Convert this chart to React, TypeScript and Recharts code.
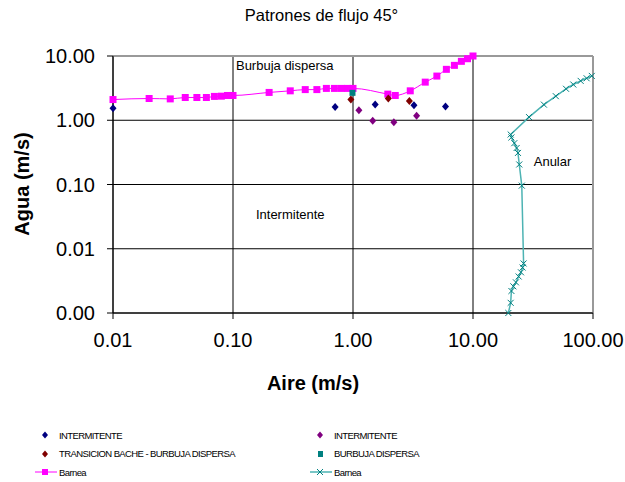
import React from "react";
import {
  ScatterChart,
  Scatter,
  XAxis,
  YAxis,
  CartesianGrid,
  ReferenceLine,
  ReferenceDot,
} from "recharts";

const xTicks = [0.01, 0.1, 1, 10, 100];
const yTicks = [0.001, 0.01, 0.1, 1, 10];

const intermitenteA = [
  { x: 0.01, y: 1.54 },
  { x: 0.71, y: 1.61 },
  { x: 1.53, y: 1.76 },
  { x: 3.22, y: 1.71 },
  { x: 5.9, y: 1.64 },
];

const intermitenteB = [
  { x: 1.12, y: 1.43 },
  { x: 1.46, y: 0.98 },
  { x: 2.19, y: 0.93 },
  { x: 3.39, y: 1.18 },
];

const transicion = [
  { x: 0.96, y: 2.1 },
  { x: 1.97, y: 2.18 },
  { x: 2.95, y: 2.0 },
];

const burbuja = [{ x: 0.99, y: 2.67 }];

const barneaBurbuja = [
  { x: 0.01, y: 2.1 },
  { x: 0.02, y: 2.18 },
  { x: 0.03, y: 2.15 },
  { x: 0.04, y: 2.26 },
  { x: 0.05, y: 2.26 },
  { x: 0.06, y: 2.26 },
  { x: 0.07, y: 2.35 },
  { x: 0.08, y: 2.37 },
  { x: 0.09, y: 2.43 },
  { x: 0.1, y: 2.43 },
  { x: 0.2, y: 2.71 },
  { x: 0.3, y: 2.87 },
  { x: 0.4, y: 3.0 },
  { x: 0.5, y: 3.0 },
  { x: 0.6, y: 3.13 },
  { x: 0.7, y: 3.13 },
  { x: 0.8, y: 3.13 },
  { x: 0.9, y: 3.13 },
  { x: 1.0, y: 3.13 },
  { x: 1.95, y: 2.55 },
  { x: 2.25, y: 2.43 },
  { x: 3, y: 2.87 },
  { x: 4, y: 3.92 },
  { x: 5, y: 4.87 },
  { x: 6, y: 6.2 },
  { x: 7, y: 7.15 },
  { x: 8, y: 8.26 },
  { x: 9, y: 9.07 },
  { x: 10, y: 10 },
];

const barneaAnular = [
  { x: 19.7, y: 0.001 },
  { x: 20.6, y: 0.00144 },
  { x: 20.9, y: 0.0022 },
  { x: 21.7, y: 0.0026 },
  { x: 22.8, y: 0.003 },
  { x: 24.0, y: 0.0037 },
  { x: 25.1, y: 0.0043 },
  { x: 25.9, y: 0.0051 },
  { x: 26.4, y: 0.0059 },
  { x: 25.5, y: 0.096 },
  { x: 24.3, y: 0.205 },
  { x: 23.7, y: 0.31 },
  { x: 23.1, y: 0.37 },
  { x: 22.1, y: 0.44 },
  { x: 20.9, y: 0.54 },
  { x: 20.6, y: 0.6 },
  { x: 29.3, y: 1.12 },
  { x: 39, y: 1.75 },
  { x: 49, y: 2.37 },
  { x: 59.6, y: 3.09 },
  { x: 68.5, y: 3.6 },
  { x: 78.9, y: 4.1 },
  { x: 88.5, y: 4.5 },
  { x: 97.7, y: 4.9 },
];

const font = "'Liberation Sans', Arial, sans-serif";

const diamond = (color: string) => (p: any) => (
  <path
    d={`M${p.cx},${p.cy - 4}L${p.cx + 3.5},${p.cy}L${p.cx},${p.cy + 4}L${p.cx - 3.5},${p.cy}Z`}
    fill={color}
  />
);

const square = (color: string, s: number) => (p: any) => (
  <rect x={p.cx - s / 2} y={p.cy - s / 2} width={s} height={s} fill={color} />
);

const cross = (color: string) => (p: any) => (
  <path
    d={`M${p.cx - 3},${p.cy - 3}L${p.cx + 3},${p.cy + 3}M${p.cx - 3},${p.cy + 3}L${p.cx + 3},${p.cy - 3}`}
    stroke={color}
    strokeWidth={1}
  />
);

const XTitle = () => (
  <text x={313} y={390} textAnchor="middle" fontFamily={font} fontSize={20} fontWeight="bold" fill="#000">
    Aire (m/s)
  </text>
);

const YTitle = () => (
  <text
    x={22}
    y={184}
    transform="rotate(-90, 22, 184)"
    textAnchor="middle"
    dominantBaseline="central"
    fontFamily={font}
    fontSize={20}
    fontWeight="bold"
    fill="#000"
  >
    Agua (m/s)
  </text>
);

function LegendItem({ icon, label }: { icon: React.ReactNode; label: string }) {
  return (
    <div style={{ display: "flex", alignItems: "center", height: 18.5 }}>
      <svg width={23} height={12} style={{ marginRight: 1 }}>
        {icon}
      </svg>
      <span style={{ fontSize: 9.5, letterSpacing: -0.6 }}>{label}</span>
    </div>
  );
}

const diamondIcon = (color: string) => (
  <path d="M10,2.5L13,6L10,9.5L7,6Z" fill={color} />
);

export default function App() {
  return (
    <div
      style={{
        position: "absolute",
        left: 0,
        top: 0,
        width: 625,
        height: 482,
        background: "#fff",
        fontFamily: font,
      }}
    >
      <div
        style={{
          position: "absolute",
          left: 0,
          width: 643,
          top: 6,
          textAlign: "center",
          fontSize: 16.5,
        }}
      >
        Patrones de flujo 45°
      </div>
      <ScatterChart width={625} height={482} margin={{ top: 56, right: 32, bottom: 0, left: 0 }}>
        <CartesianGrid stroke="#000" strokeWidth={1} />
        <XAxis
          type="number"
          dataKey="x"
          scale="log"
          domain={[0.01, 100]}
          ticks={xTicks}
          tickFormatter={(v: number) => v.toFixed(2)}
          height={169}
          tickSize={6}
          tickMargin={14}
          stroke="#000"
          tick={{ fill: "#000", fontSize: 20, fontFamily: font }}
          label={<XTitle />}
        />
        <YAxis
          type="number"
          dataKey="y"
          scale="log"
          domain={[0.001, 10]}
          ticks={yTicks}
          tickFormatter={(v: number) => v.toFixed(2)}
          width={113}
          tickSize={6}
          tickMargin={12}
          stroke="#000"
          tick={{ fill: "#000", fontSize: 20, fontFamily: font }}
          label={<YTitle />}
        />
        <ReferenceLine y={10} stroke="#999" strokeWidth={2} />
        <ReferenceLine x={100} stroke="#999" strokeWidth={2} />
        <ReferenceDot
          x={0.27}
          y={7.2}
          r={0}
          fill="none"
          stroke="none"
          label={{ value: "Burbuja dispersa", position: "center", fontSize: 13, fill: "#000", fontFamily: font }}
        />
        <ReferenceDot
          x={0.3}
          y={0.034}
          r={0}
          fill="none"
          stroke="none"
          label={{ value: "Intermitente", position: "center", fontSize: 13, fill: "#000", fontFamily: font }}
        />
        <ReferenceDot
          x={46}
          y={0.23}
          r={0}
          fill="none"
          stroke="none"
          label={{ value: "Anular", position: "center", fontSize: 13, fill: "#000", fontFamily: font }}
        />
        <Scatter
          data={barneaBurbuja}
          line={{ stroke: "#ff00ff", strokeWidth: 1 }}
          lineJointType="monotoneX"
          shape={square("#ff00ff", 7)}
          isAnimationActive={false}
        />
        <Scatter
          data={barneaAnular}
          line={{ stroke: "#4db3b3", strokeWidth: 1.5 }}
          lineJointType="linear"
          shape={cross("#008080")}
          isAnimationActive={false}
        />
        <Scatter data={intermitenteA} shape={diamond("#000080")} isAnimationActive={false} />
        <Scatter data={intermitenteB} shape={diamond("#800080")} isAnimationActive={false} />
        <Scatter data={transicion} shape={diamond("#800000")} isAnimationActive={false} />
        <Scatter data={burbuja} shape={square("#008080", 6)} isAnimationActive={false} />
      </ScatterChart>
      <div style={{ position: "absolute", left: 35, top: 426 }}>
        <LegendItem icon={diamondIcon("#000080")} label="INTERMITENTE" />
        <LegendItem icon={diamondIcon("#800000")} label="TRANSICION BACHE - BURBUJA DISPERSA" />
        <LegendItem
          icon={
            <g>
              <line x1={0} y1={6} x2={22} y2={6} stroke="#ff00ff" strokeWidth={1} />
              <rect x={7} y={3} width={6} height={6} fill="#ff00ff" />
            </g>
          }
          label="Barnea"
        />
      </div>
      <div style={{ position: "absolute", left: 310, top: 426 }}>
        <LegendItem icon={diamondIcon("#800080")} label="INTERMITENTE" />
        <LegendItem icon={<rect x={8} y={3} width={5} height={6} fill="#008080" />} label="BURBUJA DISPERSA" />
        <LegendItem
          icon={
            <g>
              <line x1={0} y1={6} x2={22} y2={6} stroke="#4db3b3" strokeWidth={1.5} />
              <path d="M7,3L13,9M7,9L13,3" stroke="#008080" strokeWidth={1} />
            </g>
          }
          label="Barnea"
        />
      </div>
    </div>
  );
}
